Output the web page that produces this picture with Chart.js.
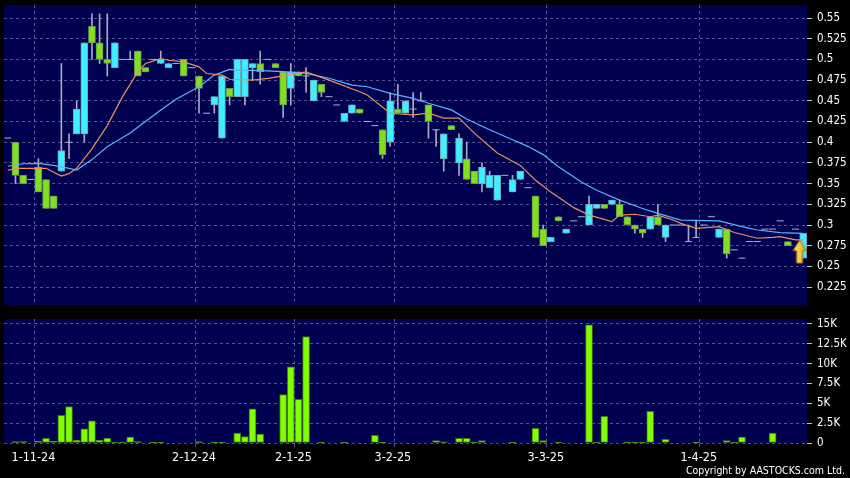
<!DOCTYPE html>
<html>
<head>
<meta charset="utf-8">
<script src="https://cdn.jsdelivr.net/npm/chart.js@4.4.1/dist/chart.umd.min.js"></script>
<style>
  html, body { margin: 0; padding: 0; background: #000; }
  #wrap { position: relative; width: 850px; height: 478px; background: #000; overflow: hidden; }
  #priceChart { position: absolute; left: 0; top: 0; }
  #volChart { position: absolute; left: 0; top: 310px; }
  #copy { position: absolute; right: 5px; top: 464px; color: #fff; font: 10.5px 'DejaVu Sans Condensed', 'DejaVu Sans', sans-serif; }
</style>
</head>
<body>
<div id="wrap">
  <canvas id="priceChart" width="850" height="310"></canvas>
  <canvas id="volChart" width="850" height="168"></canvas>
  <div id="copy">Copyright by AASTOCKS.com Ltd.</div>
</div>
<script>
// one entry per trading day, only month starts carry a label
const dateLabels = new Array(105).fill('');
dateLabels[4] = '1-11-24';
dateLabels[25] = '2-12-24';
dateLabels[38] = '2-1-25';
dateLabels[51] = '3-2-25';
dateLabels[71] = '3-3-25';
dateLabels[91] = '1-4-25';

const opens = [
  0.405, 0.40, 0.36, 0.355, 0.37, 0.355, 0.335, 0.365, 0.40, 0.41,
  0.41, 0.54, 0.52, 0.50, 0.49, 0.50, 0.50, 0.51, 0.49, 0.50,
  0.495, 0.49, 0.495, 0.50, 0.49, 0.48, 0.435, 0.445, 0.405, 0.465,
  0.455, 0.455, 0.49, 0.495, 0.50, 0.495, 0.485, 0.465, 0.485, 0.48,
  0.45, 0.47, 0.455, 0.445, 0.425, 0.435, 0.44, 0.425, 0.42, 0.415,
  0.40, 0.44, 0.435, 0.44, 0.45, 0.445, 0.415, 0.38, 0.42, 0.375,
  0.38, 0.365, 0.35, 0.345, 0.33, 0.36, 0.34, 0.355, 0.345, 0.335,
  0.295, 0.28, 0.31, 0.29, 0.305, 0.31, 0.30, 0.32, 0.325, 0.325,
  0.325, 0.31, 0.30, 0.295, 0.295, 0.31, 0.285, 0.30, 0.30, 0.28,
  0.285, 0.30, 0.31, 0.285, 0.295, 0.27, 0.26, 0.28, 0.28, 0.295,
  0.295, 0.305, 0.28, 0.295, 0.26
];
const highs = [
  0.405, 0.40, 0.36, 0.355, 0.38, 0.355, 0.335, 0.495, 0.41, 0.45,
  0.52, 0.555, 0.555, 0.555, 0.52, 0.50, 0.51, 0.51, 0.49, 0.50,
  0.51, 0.495, 0.495, 0.50, 0.49, 0.48, 0.435, 0.455, 0.48, 0.465,
  0.50, 0.50, 0.495, 0.51, 0.50, 0.495, 0.485, 0.495, 0.485, 0.49,
  0.475, 0.47, 0.455, 0.445, 0.435, 0.445, 0.44, 0.425, 0.42, 0.415,
  0.46, 0.47, 0.45, 0.46, 0.46, 0.445, 0.415, 0.41, 0.42, 0.41,
  0.40, 0.365, 0.375, 0.365, 0.36, 0.36, 0.36, 0.365, 0.345, 0.335,
  0.30, 0.285, 0.31, 0.295, 0.305, 0.31, 0.335, 0.325, 0.325, 0.33,
  0.33, 0.31, 0.30, 0.295, 0.31, 0.325, 0.30, 0.30, 0.30, 0.30,
  0.305, 0.30, 0.31, 0.295, 0.295, 0.27, 0.26, 0.28, 0.28, 0.295,
  0.295, 0.305, 0.28, 0.295, 0.29
];
const lows = [
  0.405, 0.35, 0.35, 0.355, 0.34, 0.32, 0.32, 0.365, 0.38, 0.41,
  0.40, 0.50, 0.495, 0.48, 0.49, 0.50, 0.50, 0.48, 0.485, 0.50,
  0.495, 0.49, 0.495, 0.48, 0.49, 0.435, 0.435, 0.435, 0.405, 0.445,
  0.455, 0.445, 0.475, 0.47, 0.50, 0.49, 0.43, 0.445, 0.48, 0.46,
  0.45, 0.455, 0.455, 0.445, 0.425, 0.435, 0.435, 0.425, 0.42, 0.38,
  0.395, 0.435, 0.435, 0.43, 0.45, 0.405, 0.395, 0.365, 0.415, 0.36,
  0.355, 0.35, 0.34, 0.345, 0.33, 0.36, 0.34, 0.355, 0.345, 0.285,
  0.275, 0.28, 0.305, 0.29, 0.305, 0.31, 0.30, 0.32, 0.32, 0.325,
  0.31, 0.30, 0.29, 0.285, 0.295, 0.30, 0.28, 0.30, 0.30, 0.28,
  0.285, 0.30, 0.31, 0.285, 0.26, 0.27, 0.26, 0.28, 0.28, 0.295,
  0.295, 0.305, 0.275, 0.295, 0.26
];
const closes = [
  0.405, 0.36, 0.35, 0.355, 0.34, 0.32, 0.32, 0.39, 0.40, 0.44,
  0.52, 0.52, 0.50, 0.495, 0.52, 0.50, 0.50, 0.48, 0.485, 0.50,
  0.50, 0.495, 0.495, 0.48, 0.49, 0.465, 0.435, 0.455, 0.48, 0.455,
  0.50, 0.50, 0.495, 0.485, 0.50, 0.49, 0.445, 0.485, 0.48, 0.48,
  0.475, 0.46, 0.455, 0.445, 0.435, 0.445, 0.435, 0.425, 0.42, 0.385,
  0.45, 0.435, 0.45, 0.44, 0.45, 0.425, 0.415, 0.41, 0.415, 0.405,
  0.355, 0.35, 0.37, 0.36, 0.36, 0.36, 0.355, 0.365, 0.345, 0.285,
  0.275, 0.285, 0.305, 0.295, 0.305, 0.31, 0.325, 0.325, 0.32, 0.33,
  0.31, 0.30, 0.295, 0.29, 0.31, 0.30, 0.30, 0.30, 0.30, 0.28,
  0.285, 0.30, 0.31, 0.295, 0.265, 0.27, 0.26, 0.28, 0.28, 0.295,
  0.295, 0.305, 0.275, 0.295, 0.29
];
const volumes = [
  0, 170, 170, 0, 250, 600, 250, 3500, 4600, 380,
  1800, 2800, 380, 630, 80, 80, 750, 170, 0, 100,
  100, 0, 0, 0, 0, 170, 0, 50, 50, 0,
  1260, 800, 4300, 1130, 0, 0, 6100, 9600, 5500, 13400,
  0, 100, 0, 0, 100, 0, 0, 0, 960, 100,
  0, 0, 0, 0, 0, 0, 300, 150, 0, 600,
  600, 80, 300, 0, 0, 0, 80, 0, 0, 1850,
  300, 0, 100, 0, 0, 0, 14900, 80, 3350, 0,
  0, 80, 80, 80, 4000, 0, 460, 0, 0, 0,
  100, 0, 0, 0, 300, 50, 750, 0, 0, 0,
  1260, 0, 0, 0, 0
];

// moving averages (gaps are bridged by the line)
const maFast = new Array(105).fill(null);
[[0, 0.366], [1, 0.3685], [5, 0.3685], [7, 0.359], [8, 0.362], [9, 0.3685], [11, 0.392],
 [13, 0.42], [15, 0.455], [17, 0.485], [18, 0.495], [20, 0.501], [21, 0.499], [23, 0.497],
 [25, 0.491], [26, 0.483], [28, 0.481], [29, 0.476], [32, 0.475], [34, 0.477], [36, 0.48],
 [39, 0.485], [42, 0.475], [46, 0.461], [47, 0.457], [50, 0.435], [53, 0.433], [55, 0.435],
 [57, 0.429], [59, 0.429], [61, 0.411], [64, 0.387], [67, 0.372], [69, 0.354], [71, 0.34],
 [74, 0.321], [76, 0.312], [79, 0.304], [80, 0.312], [82, 0.313], [84, 0.31], [85, 0.312],
 [87, 0.306], [88, 0.302], [90, 0.296], [93, 0.298], [95, 0.291], [98, 0.284], [100, 0.285],
 [101, 0.286], [103, 0.282], [104, 0.282]].forEach(([i, v]) => { maFast[i] = v; });

const maSlow = new Array(105).fill(null);
[[0, 0.371], [2, 0.374], [4, 0.3745], [6, 0.372], [8, 0.3685], [9, 0.3664], [11, 0.379],
 [13, 0.3946], [16, 0.411], [18, 0.425], [20, 0.439], [22, 0.452], [25, 0.467], [27, 0.481],
 [29, 0.488], [30, 0.487], [33, 0.4864], [36, 0.4852], [39, 0.4832], [42, 0.4772], [45, 0.469],
 [47, 0.467], [50, 0.459], [53, 0.453], [55, 0.447], [58, 0.439], [60, 0.428], [63, 0.415],
 [66, 0.403], [68, 0.395], [70, 0.385], [72, 0.3704], [75, 0.352], [77, 0.342], [80, 0.33],
 [83, 0.32], [85, 0.314], [88, 0.306], [90, 0.3055], [93, 0.305], [96, 0.298], [98, 0.294],
 [101, 0.2907], [104, 0.29]].forEach(([i, v]) => { maSlow[i] = v; });

const priceTicks = [0.225, 0.25, 0.275, 0.3, 0.325, 0.35, 0.375, 0.4, 0.425, 0.45, 0.475, 0.5, 0.525, 0.55];
const volTicks = [0, 2500, 5000, 7500, 10000, 12500, 15000];
const arrowIndex = 103;
const arrowValue = 0.268;

const UP = '#3ef0ff', DOWN = '#80e020';
const GRID = 'rgba(125,125,185,0.65)';
const FONT = "'DejaVu Sans Condensed', 'DejaVu Sans', sans-serif";

const plotBg = {
    id: 'plotBg',
    beforeDraw(chart) {
        const { ctx, chartArea: a } = chart;
        ctx.save();
        ctx.fillStyle = '#000050';
        ctx.fillRect(a.left, a.top, a.right - a.left, a.bottom - a.top);
        ctx.restore();
    }
};

function makeArrow() {
    const c = document.createElement('canvas');
    c.width = 22; c.height = 26;
    const g = c.getContext('2d');
    const grad = g.createLinearGradient(8, 0, 22, 0);
    grad.addColorStop(0, '#fff4a0');
    grad.addColorStop(1, '#e8a000');
    g.beginPath();
    g.moveTo(15, 1.5); g.lineTo(21.5, 12); g.lineTo(18, 12); g.lineTo(18, 24.5);
    g.lineTo(12, 24.5); g.lineTo(12, 12); g.lineTo(8.5, 12); g.closePath();
    g.fillStyle = grad; g.fill();
    g.strokeStyle = '#a86a00'; g.lineWidth = 1; g.stroke();
    return c;
}

const labelGrid = (ctx) => (ctx.tick && ctx.tick.label ? GRID : 'transparent');
const noPad = (s) => { s.paddingTop = 0; s.paddingBottom = 0; s.paddingLeft = 0; s.paddingRight = 0; };

const isUp = closes.map((c, i) => c >= opens[i]);
const bodies = opens.map((o, i) => (o !== closes[i] ? [Math.min(o, closes[i]), Math.max(o, closes[i])] : null));
const wicks = lows.map((l, i) => (highs[i] > l ? [l, highs[i]] : null));
const dojis = opens.map((o, i) => (o === closes[i] ? o : null));
const arrowData = dateLabels.map((_, i) => (i === arrowIndex ? arrowValue : null));

Chart.defaults.animation = false;
Chart.defaults.font.family = FONT;

new Chart(document.getElementById('priceChart'), {
    type: 'bar',
    data: {
        labels: dateLabels,
        datasets: [{
            type: 'line', data: maFast, borderColor: '#e8905e', borderWidth: 1.2,
            pointRadius: 0, spanGaps: true, order: 0
        }, {
            type: 'line', data: maSlow, borderColor: '#5ab4ff', borderWidth: 1.2,
            pointRadius: 0, spanGaps: true, order: 0
        }, {
            data: bodies, grouped: false, barThickness: 7,
            backgroundColor: isUp.map(u => (u ? UP : DOWN)),
            borderColor: isUp.map(u => (u ? '#70a8b8' : '#6a9a50')),
            borderWidth: 1, borderSkipped: false, order: 1
        }, {
            type: 'line', data: dojis, showLine: false, pointStyle: 'line',
            pointRadius: 3.5, borderColor: '#b0b0c8', borderWidth: 1, order: 1
        }, {
            data: wicks, grouped: false, barThickness: 1,
            backgroundColor: '#a8a8c0', borderWidth: 0, order: 2
        }, {
            type: 'line', data: arrowData, showLine: false, pointStyle: makeArrow(),
            pointRadius: 6, order: -1
        }]
    },
    options: {
        responsive: false,
        layout: { autoPadding: false, padding: { left: 4, right: 0, top: 5, bottom: 5 } },
        plugins: { legend: { display: false }, tooltip: { enabled: false } },
        scales: {
            x: {
                grid: { color: labelGrid, drawTicks: false, offset: true },
                border: { display: false, dash: [3, 3] },
                ticks: { display: false, autoSkip: false },
                afterFit: (s) => { s.height = 0; noPad(s); }
            },
            y: {
                position: 'right', min: 0.2034, max: 0.5657,
                afterBuildTicks: (s) => { s.ticks = priceTicks.map(v => ({ value: v })); },
                grid: { color: GRID, tickColor: '#c8c8c8', tickLength: 5 },
                border: { display: false, dash: [3, 3] },
                ticks: { color: '#fff', padding: 5, font: { size: 11.5 }, callback: (v) => String(v) },
                afterFit: (s) => { s.width = 43; noPad(s); }
            }
        }
    },
    plugins: [plotBg]
});

new Chart(document.getElementById('volChart'), {
    type: 'bar',
    data: {
        labels: dateLabels,
        datasets: [{
            data: volumes, barThickness: 7,
            backgroundColor: '#80ff00', borderColor: '#3f7a00', borderWidth: 1, borderSkipped: false
        }]
    },
    options: {
        responsive: false,
        layout: { autoPadding: false, padding: { left: 4, right: 0, top: 9, bottom: 9 } },
        plugins: { legend: { display: false }, tooltip: { enabled: false } },
        scales: {
            x: {
                grid: { color: labelGrid, tickColor: labelGrid, tickLength: 4, offset: true },
                border: { display: false, dash: [3, 3] },
                ticks: { color: '#fff', autoSkip: false, maxRotation: 0, padding: 3, labelOffset: -5, font: { size: 12.5 } },
                afterFit: (s) => { s.height = 26; noPad(s); }
            },
            y: {
                position: 'right', min: 0, max: 15630,
                afterBuildTicks: (s) => { s.ticks = volTicks.map(v => ({ value: v })); },
                grid: { color: GRID, tickColor: '#c8c8c8', tickLength: 5 },
                border: { display: false, dash: [3, 3] },
                ticks: { color: '#fff', padding: 5, font: { size: 11.5 },
                    callback: (v) => (v === 0 ? '0' : (v / 1000) + 'K') },
                afterFit: (s) => { s.width = 43; noPad(s); }
            }
        }
    },
    plugins: [plotBg]
});
</script>
</body>
</html>
